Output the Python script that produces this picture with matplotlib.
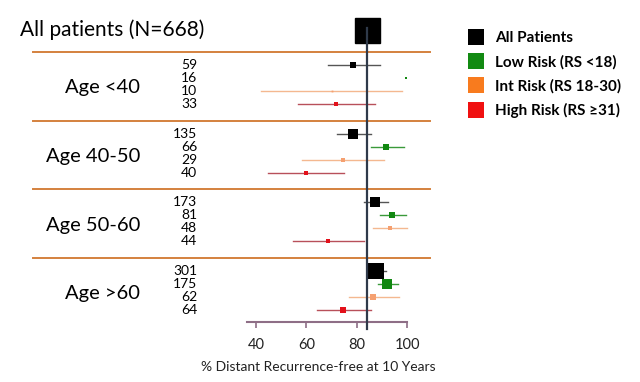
import matplotlib
matplotlib.use('Agg')
import matplotlib.pyplot as plt
from matplotlib.lines import Line2D
from matplotlib.transforms import blended_transform_factory
import numpy as np

plt.rcParams['font.family'] = ['Lato', 'DejaVu Sans']

# overall cohort
overall_label = 'All patients (N=668)'
overall_n = 668
overall_est = 84.2

groups = ['Age <40', 'Age 40-50', 'Age 50-60', 'Age >60']
risk_names = ['All Patients', 'Low Risk (RS <18)', 'Int Risk (RS 18-30)', 'High Risk (RS \u226531)']

# one row per risk class inside each age group
n_counts = [[59, 16, 10, 33],
            [135, 66, 29, 40],
            [173, 81, 48, 44],
            [301, 175, 62, 64]]
estimates = [[78.7, 99.7, 70.0, 71.6],
             [78.7, 91.8, 74.4, 59.8],
             [87.4, 94.0, 93.2, 68.7],
             [87.8, 92.2, 86.4, 74.4]]
ci_low = [[68.5, np.nan, 42.0, 56.5],
          [72.0, 85.8, 58.3, 44.7],
          [83.0, 89.4, 86.6, 54.7],
          [84.3, 88.6, 76.8, 64.1]]
ci_high = [[89.4, np.nan, 98.0, 87.4],
           [85.8, 99.0, 91.0, 75.0],
           [92.6, 99.6, 100.0, 83.0],
           [91.7, 96.6, 97.0, 85.8]]
xticks = [40, 60, 80, 100]

marker_colors = ['#000000', '#118811', '#F5A070', '#E3101A']
line_colors = ['#555555', '#3A9A3A', '#F4B890', '#B8505A']
legend_colors = ['#000000', '#128A12', '#F87B1E', '#F01010']

W, H = 640, 382
fig = plt.figure(figsize=(W / 100, H / 100), dpi=100)
px = lambda x: x / W
py = lambda y: 1 - y / H

row_px = 13.0
group_step = 5.28
ax = fig.add_axes([px(247), py(322), px(407 - 247), 322 / H])
ax.set_xlim(36.4, 100)
ax.set_ylim((322 - 65) / row_px, -65 / row_px)

def side_pt(n):
    # square side grows with group size
    return 25 * (n / overall_n) ** 0.63 * 0.72

trans = blended_transform_factory(fig.transFigure, ax.transData)

overall_y = -2.7
ax.plot(overall_est, overall_y, 's', color='black', ms=side_pt(overall_n),
        clip_on=False, zorder=3)
fig.text(px(20), py(30), overall_label, fontsize=15, va='center', ha='left')

for g, name in enumerate(groups):
    y0 = g * group_step
    ax.plot([px(33), px(430)], [y0 - 1.0, y0 - 1.0], transform=trans,
            color='#D4813E', lw=1.4, clip_on=False)
    ax.text(px(140), y0 + 1.75, name, transform=trans, fontsize=14.5,
            ha='right', va='center')
    for r in range(4):
        y = y0 + r
        ax.plot([ci_low[g][r], ci_high[g][r]], [y, y], color=line_colors[r],
                lw=1.0, clip_on=False, zorder=2)
        ax.plot(estimates[g][r], y, 's', color=marker_colors[r],
                ms=max(side_pt(n_counts[g][r]), 1.0), mew=0, clip_on=False, zorder=3)
        ax.text(px(197), y, str(n_counts[g][r]), transform=trans, fontsize=10,
                ha='right', va='center')

ax.plot([overall_est, overall_est], [-2.85, (329 - 65) / row_px], color='#2F3A4A',
        lw=1.6, clip_on=False, zorder=4)

for s in ['left', 'right', 'top']:
    ax.spines[s].set_visible(False)
ax.spines['bottom'].set_color('#8E6E86')
ax.spines['bottom'].set_linewidth(1.5)
ax.set_yticks([])
ax.set_xticks(xticks)
ax.tick_params(axis='x', direction='out', length=4.5, width=1.2, color='#8E6E86',
               labelsize=10.5, pad=7, labelcolor='#222222')
ax.patch.set_visible(False)

fig.text(px(318), py(367), '% Distant Recurrence-free at 10 Years', fontsize=10,
         ha='center', va='center', color='#222222')

handles = [Line2D([], [], marker='s', ls='none', color=c, ms=12, mew=0) for c in legend_colors]
fig.legend(handles, risk_names, loc='upper left', bbox_to_anchor=(px(465), py(31)),
           frameon=False, borderpad=0, borderaxespad=0, handlelength=1.4,
           handletextpad=0.56, labelspacing=0.63, prop={'weight': 'bold', 'size': 11})

fig.savefig('out.png', dpi=100)
